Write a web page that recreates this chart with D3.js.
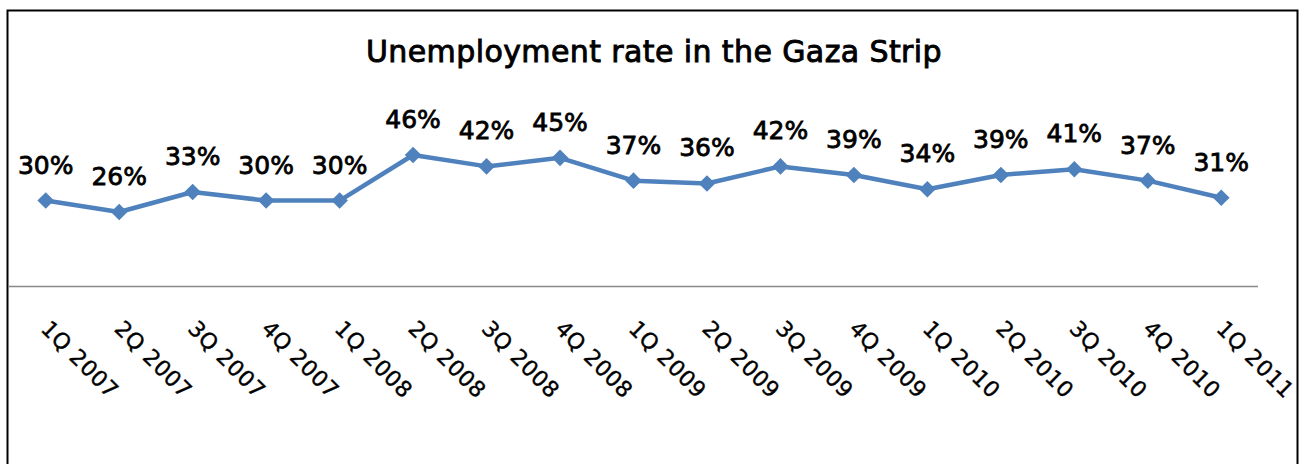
<!DOCTYPE html>
<html>
<head>
<meta charset="utf-8">
<script src="https://cdn.jsdelivr.net/npm/d3@7"></script>
<style>
  body { margin: 0; background: #fff; }
  svg { display: block; font-family: "DejaVu Sans", sans-serif; }
</style>
</head>
<body>
<div id="chart"></div>
<script>
// data
const quarters = ["1Q 2007", "2Q 2007", "3Q 2007", "4Q 2007", "1Q 2008", "2Q 2008", "3Q 2008", "4Q 2008",
                  "1Q 2009", "2Q 2009", "3Q 2009", "4Q 2009", "1Q 2010", "2Q 2010", "3Q 2010", "4Q 2010", "1Q 2011"]
const rates = [30, 26, 33, 30, 30, 46, 42, 45, 37, 36, 42, 39, 34, 39, 41, 37, 31]
const chartTitle = "Unemployment rate in the Gaza Strip"

const width = 1305, height = 464

const svg = d3.select('#chart')
  .append('svg')
  .attr('width', width)
  .attr('height', height)

// frame
svg.append('rect')
  .attr('x', 7.5).attr('y', 10.5)
  .attr('width', 1290).attr('height', 500)
  .attr('fill', 'none')
  .style('stroke', '#000')
  .style('stroke-width', 2)

svg.append('text')
  .attr('x', 654).attr('y', 62)
  .attr('text-anchor', 'middle')
  .style('font-size', '30px')
  .style('letter-spacing', '0.4px')
  .style('stroke', '#000')
  .style('stroke-width', 0.9)
  .text(chartTitle)

const x = d3.scalePoint()
  .domain(quarters)
  .range([9, 1258])
  .padding(0.5)

const y = d3.scaleLinear()
  .domain([0, 46])
  .range([286, 155])

// category axis line
svg.append('line')
  .attr('x1', 9).attr('x2', 1258)
  .attr('y1', 286.5).attr('y2', 286.5)
  .style('stroke', '#898989')
  .style('stroke-width', 1.5)

// tick labels, rotated
svg.append('g')
  .selectAll('text')
  .data(quarters)
  .enter().append('text')
  .attr('transform', function(d) { return 'translate(' + (x(d) - 6) + ',330) rotate(45)'; })
  .style('font-size', '22px')
  .style('letter-spacing', '0.6px')
  .style('stroke', '#000')
  .style('stroke-width', 0.4)
  .text(function(d) { return d; })

const line = d3.line()
  .x(function(d, i) { return x(quarters[i]); })
  .y(function(d) { return y(d); })

svg.append('path')
  .datum(rates)
  .attr('d', line)
  .attr('fill', 'none')
  .style('stroke', '#4F81BD')
  .style('stroke-width', 4.5)
  .style('stroke-linejoin', 'round')

svg.append('g')
  .selectAll('path')
  .data(rates)
  .enter().append('path')
  .attr('d', d3.symbol().type(d3.symbolDiamond2).size(175))
  .attr('transform', function(d, i) { return 'translate(' + x(quarters[i]) + ',' + y(d) + ')'; })
  .attr('fill', '#4F81BD')

svg.append('g')
  .selectAll('text')
  .data(rates)
  .enter().append('text')
  .attr('x', function(d, i) { return x(quarters[i]); })
  .attr('y', function(d) { return y(d) - 27; })
  .attr('text-anchor', 'middle')
  .style('font-size', '25px')
  .style('stroke', '#000')
  .style('stroke-width', 0.8)
  .text(function(d) { return d + '%'; })
</script>
</body>
</html>
